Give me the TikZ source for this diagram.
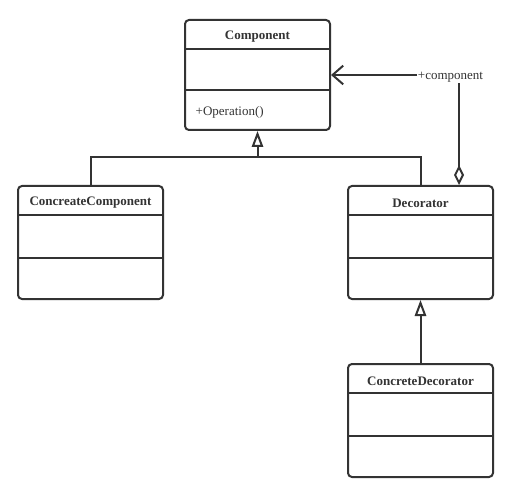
\documentclass[tikz,border=0pt]{standalone}
\usepackage{fontspec}
\setmainfont{Liberation Serif}
\usetikzlibrary{arrows.meta,calc}
\definecolor{ink}{HTML}{333333}
\begin{document}
\begin{tikzpicture}[x=0.75pt,y=-0.75pt,
  cls/.style={draw=ink,line width=1.5pt,rounded corners=3pt,minimum width=108.75pt,inner sep=0pt},
  ttl/.style={font=\fontsize{9.75}{11}\selectfont\bfseries,text=ink},
  txt/.style={font=\fontsize{9.75}{11}\selectfont,text=ink},
  divider/.style={draw=ink,line width=1.5pt},
  gen/.style={draw=ink,line width=1.5pt,-{Triangle[fill=white,length=12pt,width=8.5pt,line width=1.5pt]}},
  assoc/.style={draw=ink,line width=1.5pt,{Diamond[fill=white,length=15pt,width=7.5pt,line width=1.5pt]}-{Straight Barb[length=8pt,width=14pt,line width=1.5pt]}}]
\useasboundingbox (0,0) rectangle (515,492);
% Component
\node[cls,minimum height=82.5pt] (comp) at (257.5,75) {};
\node[ttl] (compt) at (257.5,37) {Component};
\draw[divider] ($(comp.north west)+(0,30)$) -- ($(comp.north east)+(0,30)$);
\draw[divider] ($(comp.north west)+(0,71)$) -- ($(comp.north east)+(0,71)$);
\node[txt,anchor=west] (op) at (191,112.5) {+Operation()};
% ConcreteComponent
\node[cls,minimum height=84.75pt] (cc) at (90.5,242.5) {};
\node[ttl] (cct) at (90.5,203) {ConcreateComponent};
\draw[divider] ($(cc.north west)+(0,30)$) -- ($(cc.north east)+(0,30)$);
\draw[divider] ($(cc.north west)+(0,73)$) -- ($(cc.north east)+(0,73)$);
% Decorator
\node[cls,minimum height=84.75pt] (dec) at (420.5,242.5) {};
\node[ttl] (dect) at (420.5,203) {Decorator};
\draw[divider] ($(dec.north west)+(0,30)$) -- ($(dec.north east)+(0,30)$);
\draw[divider] ($(dec.north west)+(0,73)$) -- ($(dec.north east)+(0,73)$);
% ConcreteDecorator
\node[cls,minimum height=84.75pt] (cd) at (420.5,420.5) {};
\node[ttl] (cdt) at (420.5,381) {ConcreteDecorator};
\draw[divider] ($(cd.north west)+(0,30)$) -- ($(cd.north east)+(0,30)$);
\draw[divider] ($(cd.north west)+(0,73)$) -- ($(cd.north east)+(0,73)$);
% generalizations
\coordinate (junc) at ($(cc.north)+(0,-28)$);
\draw[divider] (dec.north) |- (junc);
\draw[gen] (cc.north) -- (junc) -| (comp.south);
\draw[gen] (cd.north) -- (dec.south);
% association
\coordinate (aa) at ($(dec.north east)+(-35,0)$);
\draw[assoc] (aa) |- (comp.east);
\node[txt,fill=white,inner sep=1pt] (lbl) at (450.5,77) {+component};
\end{tikzpicture}
\end{document}
